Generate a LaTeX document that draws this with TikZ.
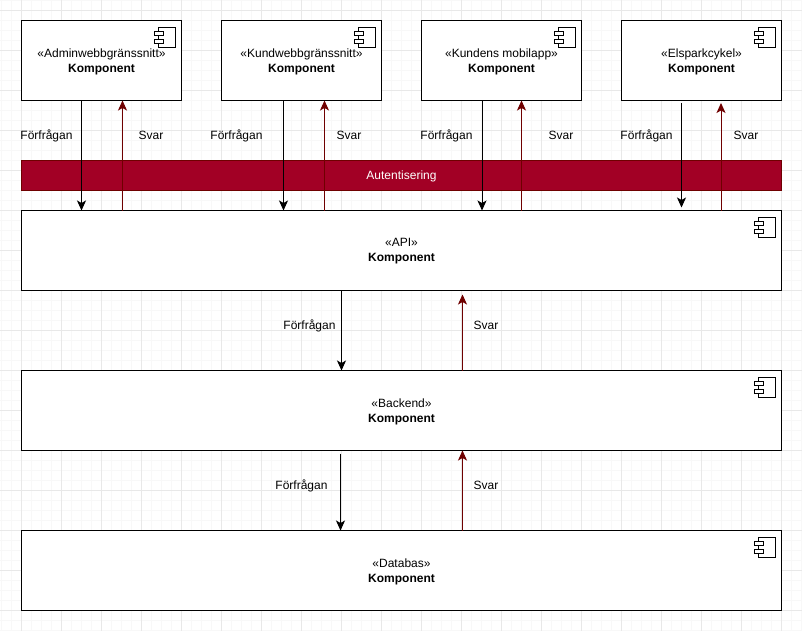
\documentclass[tikz,border=0pt]{standalone}
\usepackage{fontspec}
\setmainfont{Liberation Sans}
\usetikzlibrary{arrows.meta}

\definecolor{authfill}{RGB}{162,0,37}
\definecolor{authline}{RGB}{111,0,0}
\definecolor{gridminor}{RGB}{248,248,248}
\definecolor{gridmajor}{RGB}{232,232,232}

\tikzset{
  every node/.style={font=\fontsize{9}{11.25}\selectfont,inner sep=0pt,outer sep=0pt},
  smallbox/.style={draw,line width=0.75pt,fill=white,minimum width=120pt,minimum height=60pt,align=center},
  widebox/.style={smallbox,minimum width=570pt},
  authbar/.style={draw=authline,line width=0.75pt,fill=authfill,text=white,minimum width=570pt,minimum height=22.5pt},
  request/.style={line width=0.75pt,-{Stealth[length=7.5pt,width=6.75pt,inset=1.9pt]}},
  response/.style={request,draw=authline},
}

%text one pixel lower, box stays where it is
\newcommand{\lowered}[1]{\raisebox{-0.75pt}[\height][\depth]{#1}}
\newcommand{\complabel}[1]{\lowered{«#1»}\\\lowered{\textbf{Komponent}}}

%component icon in the upper right corner of a box
\newcommand{\compicon}[1]{
  \draw [line width=0.75pt] ([shift={(-23,7)}]#1.north east) rectangle ([shift={(-6.5,27)}]#1.north east) ;
  \draw [line width=0.75pt,fill=white] ([shift={(-27,11)}]#1.north east) rectangle ([shift={(-18.5,15)}]#1.north east) ;
  \draw [line width=0.75pt,fill=white] ([shift={(-27,19)}]#1.north east) rectangle ([shift={(-18.5,23)}]#1.north east) ;
}

\begin{document}
\begin{tikzpicture}[x=0.75pt,y=0.75pt,yscale=-1,xscale=1]
\useasboundingbox (0,0) rectangle (802,631);

%Background grid
\begin{scope}[shift={(21.5,10.5)}]
\draw [gridminor,line width=0.75pt,step=10] (-21.5,-10.5) grid (780.5,620.5) ;
\draw [gridmajor,line width=0.75pt,step=40] (-21.5,-10.5) grid (780.5,620.5) ;
\end{scope}

%Top row
\node [smallbox] (admin) at (101.5,60.5) {\complabel{Adminwebbgränssnitt}};
\node [smallbox] (kund) at (301.5,60.5) {\complabel{Kundwebbgränssnitt}};
\node [smallbox] (mobil) at (501.5,60.5) {\complabel{Kundens mobilapp}};
\node [smallbox] (elspark) at (701.5,60.5) {\complabel{Elsparkcykel}};

%Authentication bar
\node [authbar] (auth) at (401.5,175.5) {\lowered{Autentisering}};

%Wide boxes
\node [widebox] (api) at (401.5,250.5) {\complabel{API}};
\node [widebox] (backend) at (401.5,410.5) {\complabel{Backend}};
\node [widebox] (databas) at (401.5,570.5) {\complabel{Databas}};

%Icons
\compicon{admin}
\compicon{kund}
\compicon{mobil}
\compicon{elspark}
\compicon{api}
\compicon{backend}
\compicon{databas}

%Free ends of the connectors
\coordinate (elreqtop) at (681.5,103) ;
\coordinate (elreqend) at (681.5,207.5) ;
\coordinate (elresend) at (721,103) ;
\coordinate (dbreqtop) at (340.5,453.5) ;

%Straight Lines
\draw [request] (admin.south -| 81.5,0) -- (api.north -| 81.5,0) ;
\draw [response] (api.north -| 122.5,0) -- (admin.south -| 122.5,0) ;
\draw [request] (kund.south -| 283.5,0) -- (api.north -| 283.5,0) ;
\draw [response] (api.north -| 324.5,0) -- (kund.south -| 324.5,0) ;
\draw [request] (mobil.south -| 482,0) -- (api.north -| 482,0) ;
\draw [response] (api.north -| 521.5,0) -- (mobil.south -| 521.5,0) ;
\draw [request] (elreqtop) -- (elreqend) ;
\draw [response] (api.north -| elresend) -- (elresend) ;
\draw [request] (api.south -| 341.5,0) -- (backend.north -| 341.5,0) ;
\draw [response] (backend.north -| 462.5,0) -- ([yshift=3]api.south -| 462.5,0) ;
\draw [request] (dbreqtop) -- (databas.north -| dbreqtop) ;
\draw [response] (databas.north -| 462.5,0) -- (backend.south -| 462.5,0) ;

% Text Node
\node (lblreqa) at (46.5,136) {Förfrågan};
\node (lblresa) at (151,135) {Svar};
\node (lblreqb) at (236.5,136) {Förfrågan};
\node (lblresb) at (349,135) {Svar};
\node (lblreqc) at (446.5,136) {Förfrågan};
\node (lblresc) at (561,135) {Svar};
\node (lblreqd) at (646.5,136) {Förfrågan};
\node (lblresd) at (746,135) {Svar};
\node (lblreqe) at (309.5,326) {Förfrågan};
\node (lblrese) at (486,325) {Svar};
\node (lblreqf) at (301.5,486) {Förfrågan};
\node (lblresf) at (486,485) {Svar};

\end{tikzpicture}
\end{document}
